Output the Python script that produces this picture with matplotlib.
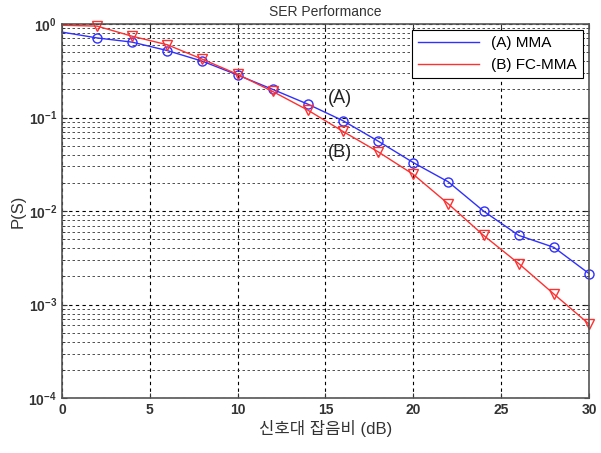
import matplotlib
matplotlib.use("Agg")
import matplotlib.pyplot as plt
from matplotlib.ticker import LogLocator, NullFormatter

# ----------------------------------
# DATA
# ----------------------------------

snr_db = [0, 2, 4, 6, 8, 10, 12, 14, 16, 18, 20, 22, 24, 26, 28, 30]

ser_mma = [0.82, 0.71, 0.64, 0.52, 0.40, 0.285, 0.20, 0.139, 0.0925,
           0.056, 0.033, 0.0205, 0.010, 0.0055, 0.0041, 0.00215]

ser_fc_mma = [0.97, 0.95, 0.74, 0.60, 0.42, 0.29, 0.19, 0.12, 0.071,
              0.043, 0.0247, 0.0119, 0.0055, 0.00275, 0.0013, 0.00062]

labels = ["(A) MMA", "(B) FC-MMA"]

# ----------------------------------
# PLOT
# ----------------------------------

plt.rcParams["font.family"] = ["Liberation Sans", "Noto Sans CJK KR", "DejaVu Sans"]

fig = plt.figure(figsize=(6.01, 4.53), dpi=100)
ax = fig.add_axes([0.103, 0.121, 0.877, 0.826])

ax.semilogy(snr_db, ser_mma, color="#3030ff", lw=1.0, marker="o",
            markersize=6.5, markerfacecolor="none", markeredgewidth=1.0,
            markevery=range(1, len(snr_db)), label=labels[0], clip_on=False)
ax.semilogy(snr_db, ser_fc_mma, color="#ff3030", lw=1.0, marker="v",
            markersize=6.5, markerfacecolor="none", markeredgewidth=1.0,
            markevery=range(1, len(snr_db)), label=labels[1], clip_on=False)

ax.set_xlim(0, 30)
ax.set_ylim(1e-4, 1)
ax.set_xticks([0, 5, 10, 15, 20, 25, 30])
ax.yaxis.set_major_locator(LogLocator(base=10, numticks=10))
ax.yaxis.set_minor_locator(LogLocator(base=10, subs=range(2, 10), numticks=10))
ax.yaxis.set_minor_formatter(NullFormatter())

ax.grid(True, which="major", color="black", ls=(0, (3, 3)), lw=0.8)
ax.grid(True, which="minor", axis="y", color="#333333", ls=(0, (3, 3)), lw=0.6)

ax.tick_params(which="both", direction="in", labelsize=10, colors="#333333",
               top=True, right=True)
ax.tick_params(which="minor", length=2)
for lbl in ax.get_xticklabels() + ax.get_yticklabels():
    lbl.set_fontweight("bold")
for sp in ax.spines.values():
    sp.set_color("#555555")
    sp.set_linewidth(1.2)

ax.set_title("SER Performance", fontsize=10, color="#333333", pad=6)
ax.set_ylabel("P(S)", fontsize=12, color="#333333", labelpad=2)
ax.set_xlabel("신호대 잡음비 (dB)", fontsize=12, color="#333333", labelpad=2)

ax.text(15.8, 0.16, "(A)", fontsize=13, ha="center", va="center", color="#222222")
ax.text(15.8, 0.042, "(B)", fontsize=13, ha="center", va="center", color="#222222")

leg = ax.legend(loc="upper right", fontsize=11, fancybox=False, framealpha=1,
                edgecolor="black", handlelength=4, borderaxespad=0.4)
leg.get_frame().set_linewidth(0.8)
for h in leg.legend_handles:
    h.set_marker("")

fig.savefig("out.png", dpi=100)
